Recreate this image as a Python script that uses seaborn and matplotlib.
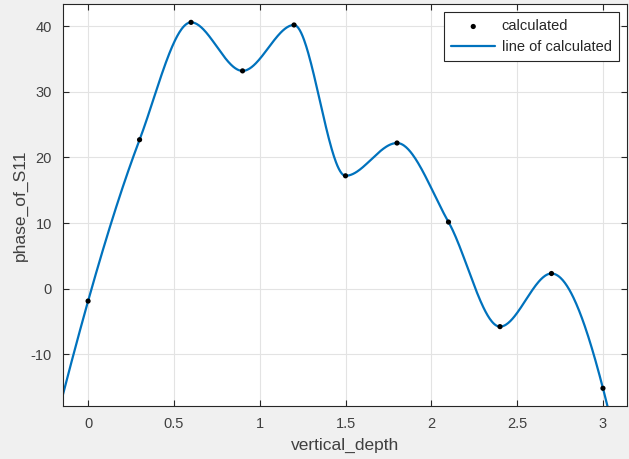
import numpy as np
import pandas as pd
import matplotlib
matplotlib.use("Agg")
import matplotlib.pyplot as plt
import seaborn as sns

# Sampled depths and the computed phase at each depth
depth = [0.0, 0.3, 0.6, 0.9, 1.2, 1.5, 1.8, 2.1, 2.4, 2.7, 3.0]
phase = [-1.9, 22.7, 40.6, 33.2, 40.2, 17.2, 22.2, 10.15, -5.8, 2.3, -15.2]
x_ticks = [0, 0.5, 1, 1.5, 2, 2.5, 3]
y_ticks = [-10, 0, 10, 20, 30, 40]


def pchip(xk, yk, xq):
    """Shape-preserving piecewise cubic Hermite interpolation (Fritsch-Carlson)."""
    xk = np.asarray(xk, float)
    yk = np.asarray(yk, float)
    n = len(xk)
    h = np.diff(xk)
    delta = np.diff(yk) / h
    d = np.zeros(n)
    for k in range(1, n - 1):
        if delta[k - 1] * delta[k] > 0:
            w1 = 2 * h[k] + h[k - 1]
            w2 = h[k] + 2 * h[k - 1]
            d[k] = (w1 + w2) / (w1 / delta[k - 1] + w2 / delta[k])

    def end_slope(h0, h1, del0, del1):
        s = ((2 * h0 + h1) * del0 - h0 * del1) / (h0 + h1)
        if np.sign(s) != np.sign(del0):
            s = 0.0
        elif np.sign(del0) != np.sign(del1) and abs(s) > abs(3 * del0):
            s = 3 * del0
        return s

    d[0] = end_slope(h[0], h[1], delta[0], delta[1])
    d[-1] = end_slope(h[-1], h[-2], delta[-1], delta[-2])

    xq = np.asarray(xq, float)
    idx = np.clip(np.searchsorted(xk, xq) - 1, 0, n - 2)
    hh = h[idx]
    t = (xq - xk[idx]) / hh
    h00 = 2 * t**3 - 3 * t**2 + 1
    h10 = t**3 - 2 * t**2 + t
    h01 = -2 * t**3 + 3 * t**2
    h11 = t**3 - t**2
    return (h00 * yk[idx] + h10 * hh * d[idx]
            + h01 * yk[idx + 1] + h11 * hh * d[idx + 1])


points = pd.DataFrame({"vertical_depth": depth, "phase_of_S11": phase})
xs = np.linspace(-0.15, 3.15, 800)
curve = pd.DataFrame({"vertical_depth": xs,
                      "phase_of_S11": pchip(depth, phase, xs)})

sns.set_theme(style="whitegrid")
plt.rcParams["font.family"] = ["Liberation Sans", "DejaVu Sans"]
plt.rcParams["axes.unicode_minus"] = False

fig = plt.figure(figsize=(6.29, 4.59), dpi=100, facecolor="#f0f0f0")
ax = fig.add_axes([0.1002, 0.1155, 0.8966, 0.8758])
ax.set_facecolor("white")

sns.scatterplot(data=points, x="vertical_depth", y="phase_of_S11", ax=ax,
                color="black", s=14, edgecolor="none", zorder=3,
                label="calculated")
sns.lineplot(data=curve, x="vertical_depth", y="phase_of_S11", ax=ax,
             color="#0072BD", linewidth=1.6, zorder=2,
             label="line of calculated")

ax.set_xlim(-0.146, 3.14)
ax.set_ylim(-17.9, 43.4)
ax.set_xticks(x_ticks)
ax.set_xticklabels([f"{t:g}" for t in x_ticks])
ax.set_yticks(y_ticks)

ax.grid(True, color="#e3e3e3", linewidth=0.8)
for side in ["left", "right", "top", "bottom"]:
    ax.spines[side].set_visible(True)
    ax.spines[side].set_color("#262626")
    ax.spines[side].set_linewidth(0.8)
ax.tick_params(direction="in", length=4, width=0.8, color="#262626",
               labelsize=10.5, labelcolor="#404040",
               top=True, right=True, bottom=True, left=True, pad=8)

ax.set_xlabel("vertical_depth", fontsize=12.5, color="#404040", labelpad=5)
ax.set_ylabel("phase_of_S11", fontsize=12.5, color="#404040", labelpad=2)

leg = ax.legend(loc="upper right", fontsize=10.5, frameon=True, fancybox=False,
                framealpha=1, edgecolor="#262626", borderpad=0.5,
                borderaxespad=0, handlelength=3.0, handletextpad=0.45,
                labelspacing=0.45, bbox_to_anchor=(0.9858, 0.980))
leg.get_frame().set_linewidth(0.8)
for t in leg.get_texts():
    t.set_color("#262626")

fig.savefig("out.png", dpi=100, facecolor=fig.get_facecolor())
